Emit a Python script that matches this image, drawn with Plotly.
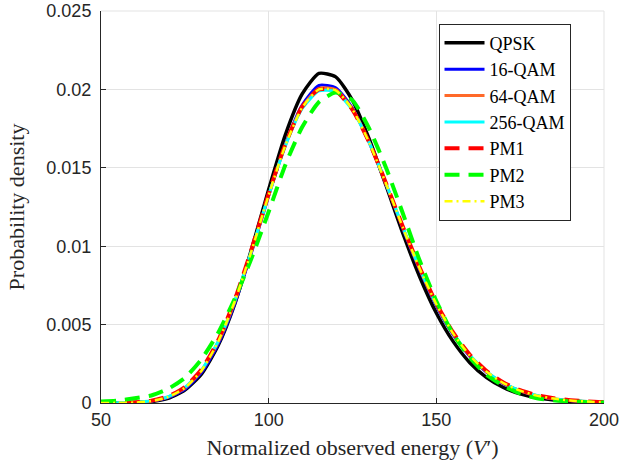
import plotly.graph_objects as go

energy = [50, 55, 60, 65, 70, 75, 80, 85, 90, 95, 100, 105, 110, 115, 120, 125,
          130, 135, 140, 145, 150, 155, 160, 165, 170, 175, 180, 185, 190, 195, 200]

qpsk = [0.0, 0.0, 0.00002, 0.00009, 0.00030, 0.00082, 0.00186, 0.00370, 0.00639, 0.00988,
        0.01362, 0.01712, 0.01971, 0.02102, 0.02080, 0.01930, 0.01682, 0.01387, 0.01083,
        0.00807, 0.00574, 0.00393, 0.00257, 0.00162, 0.00099, 0.00058, 0.00033, 0.00019,
        0.00010, 0.00005, 0.00003]
qam16 = [0.0, 0.00001, 0.00003, 0.00011, 0.00034, 0.00088, 0.00195, 0.00378, 0.00640, 0.00968,
         0.01322, 0.01650, 0.01900, 0.02025, 0.02010, 0.01880, 0.01660, 0.01395, 0.01112,
         0.00850, 0.00620, 0.00436, 0.00297, 0.00195, 0.00124, 0.00077, 0.00045, 0.00026,
         0.00015, 0.00008, 0.00004]
qam64 = [0.0, 0.00001, 0.00003, 0.00013, 0.00038, 0.00096, 0.00207, 0.00392, 0.00653, 0.00976,
         0.01325, 0.01645, 0.01887, 0.02006, 0.01998, 0.01874, 0.01660, 0.01397, 0.01118,
         0.00857, 0.00628, 0.00442, 0.00301, 0.00198, 0.00126, 0.00078, 0.00046, 0.00027,
         0.00016, 0.00009, 0.00005]
qam256 = [0.0, 0.00001, 0.00004, 0.00014, 0.00040, 0.00099, 0.00210, 0.00396, 0.00658, 0.00980,
          0.01325, 0.01640, 0.01878, 0.01990, 0.01985, 0.01868, 0.01660, 0.01400, 0.01122,
          0.00862, 0.00632, 0.00446, 0.00304, 0.00200, 0.00128, 0.00080, 0.00048, 0.00028,
          0.00016, 0.00009, 0.00005]
pm1 = [0.0, 0.00001, 0.00004, 0.00015, 0.00042, 0.00102, 0.00215, 0.00402, 0.00665, 0.00988,
       0.01335, 0.01652, 0.01890, 0.02000, 0.01990, 0.01870, 0.01662, 0.01402, 0.01125,
       0.00866, 0.00636, 0.00450, 0.00308, 0.00204, 0.00131, 0.00082, 0.00050, 0.00030,
       0.00018, 0.00010, 0.00006]
pm2 = [0.00010, 0.00015, 0.00030, 0.00048, 0.00090, 0.00160, 0.00280, 0.00450, 0.00670, 0.00930,
       0.01220, 0.01520, 0.01760, 0.01920, 0.01980, 0.01930, 0.01750, 0.01500, 0.01210,
       0.00910, 0.00650, 0.00440, 0.00290, 0.00180, 0.00110, 0.00060, 0.00030, 0.00017,
       0.00010, 0.00005, 0.00003]
pm3 = [0.0, 0.00001, 0.00003, 0.00013, 0.00039, 0.00097, 0.00208, 0.00394, 0.00655, 0.00978,
       0.01326, 0.01644, 0.01884, 0.02000, 0.01994, 0.01872, 0.01660, 0.01398, 0.01120,
       0.00859, 0.00630, 0.00444, 0.00302, 0.00199, 0.00127, 0.00079, 0.00047, 0.00028,
       0.00016, 0.00009, 0.00005]

series_names = ["QPSK", "16-QAM", "64-QAM", "256-QAM", "PM1", "PM2", "PM3"]
series_values = [qpsk, qam16, qam64, qam256, pm1, pm2, pm3]
colors = ["#000000", "#0000FF", "#FF6929", "#00FFFF", "#FF0000", "#00FF00", "#FFFF00"]
widths = [3.5, 3, 3, 3, 4, 4, 2.5]
dashes = ["solid", "solid", "solid", "solid", "15px,9px", "15px,9px", "8px,4px,2px,4px"]

x_ticks = [50, 100, 150, 200]
y_ticks = [0, 0.005, 0.01, 0.015, 0.02, 0.025]
y_tick_labels = ["0", "0.005", "0.01", "0.015", "0.02", "0.025"]

fig = go.Figure()
for name, vals, c, w, d in zip(series_names, series_values, colors, widths, dashes):
    fig.add_trace(go.Scatter(x=energy, y=vals, mode="lines", name=name,
                             line=dict(color=c, width=w, dash=d, shape="spline", smoothing=0.6)))

serif = "Liberation Serif, Times New Roman, serif"
sans = "Liberation Sans, Arial, sans-serif"

fig.update_layout(
    width=635, height=466,
    margin=dict(l=101, r=31, t=11, b=63, autoexpand=False),
    paper_bgcolor="white", plot_bgcolor="white",
    showlegend=True,
    legend=dict(x=0.671, y=0.968, xanchor="left", yanchor="top",
                bgcolor="white", bordercolor="#262626", borderwidth=1,
                font=dict(family=serif, size=18, color="#000000"),
                tracegroupgap=0, itemwidth=40),
    xaxis=dict(range=[50, 200], tickvals=x_ticks, ticktext=[str(v) for v in x_ticks],
               showgrid=True, gridcolor="#e3e3e3", gridwidth=1, automargin=False,
               showline=True, linecolor="#262626", linewidth=1, mirror=False,
               ticks="inside", ticklen=5, tickcolor="#262626", zeroline=False,
               ticklabeloverflow="allow",
               tickfont=dict(family=sans, size=18, color="#262626"),
               title=dict(text="Normalized observed energy (<i>V</i>′)", standoff=11,
                          font=dict(family=serif, size=22, color="#262626"))),
    yaxis=dict(range=[0, 0.025], tickvals=y_ticks, ticktext=y_tick_labels,
               showgrid=True, gridcolor="#e3e3e3", gridwidth=1, automargin=False,
               showline=True, linecolor="#262626", linewidth=1, mirror=False,
               ticks="inside", ticklen=5, tickcolor="#262626", zeroline=False,
               ticklabelstandoff=5, ticklabeloverflow="allow",
               tickfont=dict(family=sans, size=18, color="#262626"),
               title=dict(text="Probability density",
                          font=dict(family=serif, size=22, color="#262626"))),
    shapes=[
        dict(type="line", xref="paper", yref="paper", x0=0, x1=1, y0=1, y1=1,
             line=dict(color="#e3e3e3", width=1), layer="below"),
        dict(type="line", xref="paper", yref="paper", x0=1, x1=1, y0=0, y1=1,
             line=dict(color="#e3e3e3", width=1), layer="below"),
    ],
)

fig.write_html("out.html", config={"displayModeBar": False},
               post_script="document.body.style.margin='0px';")
